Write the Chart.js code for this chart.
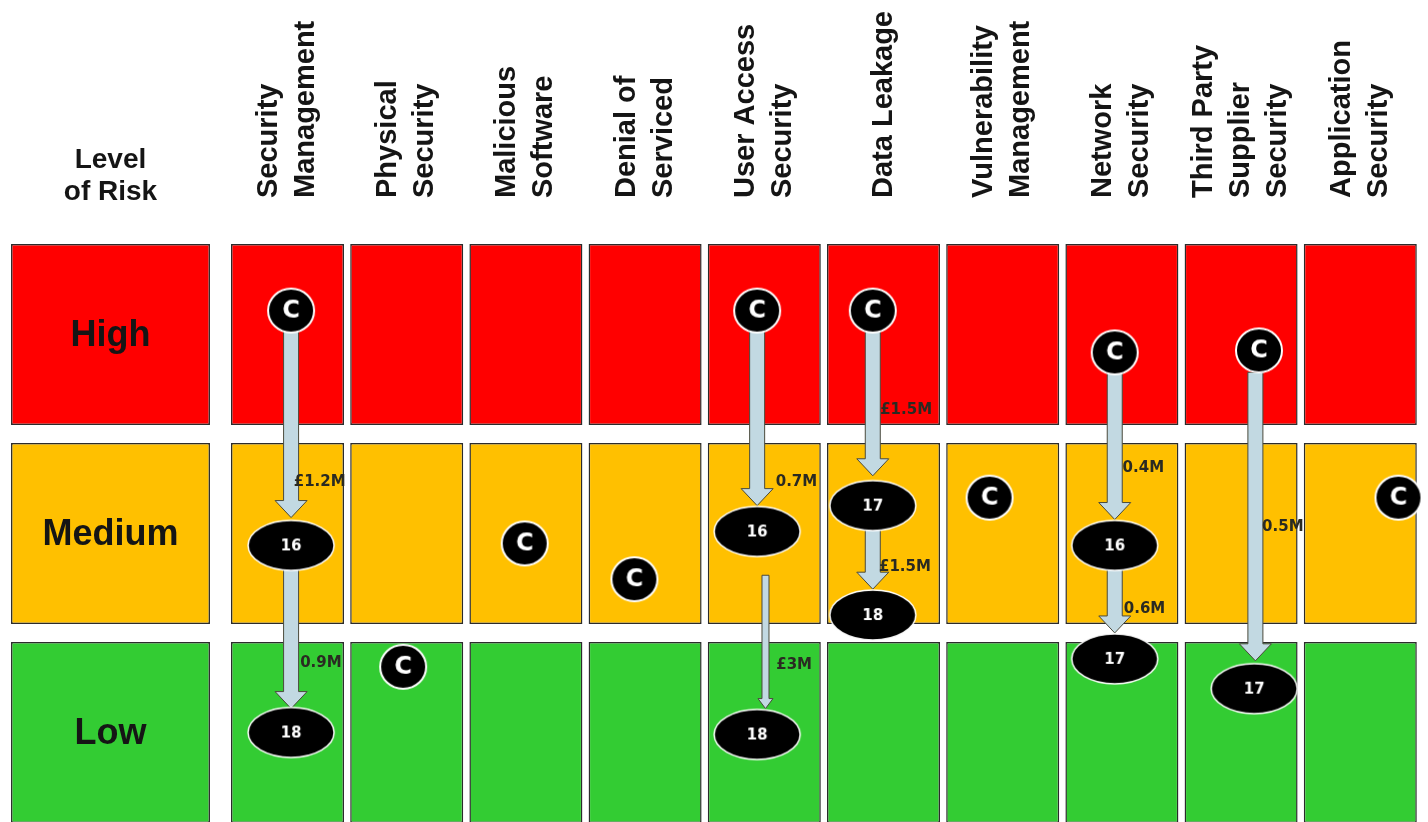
<!DOCTYPE html>
<html>
<head>
<meta charset="utf-8">
<title>Level of Risk</title>
<script src="https://cdn.jsdelivr.net/npm/chart.js@4.4.1/dist/chart.umd.min.js"></script>
<style>
  html, body { margin: 0; padding: 0; background: #fff; }
  #wrap { width: 1428px; height: 822px; }
</style>
</head>
<body>
<div id="wrap"><canvas id="riskChart" width="1428" height="822"></canvas></div>
<script>
// columns: risk areas (each entry = lines of the rotated header)
var riskAreas = [
    ['Security', 'Management'], ['Physical', 'Security'], ['Malicious', 'Software'],
    ['Denial of', 'Serviced'], ['User Access', 'Security'], ['Data Leakage'],
    ['Vulnerability', 'Management'], ['Network', 'Security'],
    ['Third Party', 'Supplier', 'Security'], ['Application', 'Security']
];
var riskLevels = ['Low', 'Medium', 'High'];
var levelTitle = ['Level', 'of Risk'];

// current position "C" of each area (x = column, y = level band)
var currentX = [0.03, 0.97, 1.99, 2.91, 3.94, 4.91, 5.89, 6.94, 8.15, 9.32];
var currentY = [2.62, 0.83, 1.45, 1.27, 2.62, 2.62, 1.68, 2.41, 2.42, 1.68];

// target positions (year shown in the ellipse)
var targetLabel = ['16', '18', '16', '18', '17', '18', '16', '17', '17'];
var targetX = [0.03, 0.03, 3.94, 3.94, 4.91, 4.91, 6.94, 6.94, 8.11];
var targetY = [1.44, 0.50, 1.51, 0.49, 1.64, 1.09, 1.44, 0.87, 0.72];

// moves between positions and their cost
var moveX = [0.03, 0.03, 3.94, 4.01, 4.91, 4.91, 6.94, 6.94, 8.12];
var moveFrom = [2.52, 1.33, 2.52, 1.29, 2.52, 1.53, 2.31, 1.33, 2.31];
var moveTo = [1.58, 0.62, 1.64, 0.62, 1.79, 1.22, 1.57, 1.00, 0.86];
var moveCost = ['£1.2M', '0.9M', '0.7M', '£3M', '£1.5M', '£1.5M', '0.4M', '0.6M', '0.5M'];
var costX = [0.27, 0.28, 4.27, 4.25, 5.19, 5.18, 7.18, 7.19, 8.35];
var costY = [1.76, 0.85, 1.76, 0.84, 2.12, 1.33, 1.83, 1.12, 1.53];

var levelColours = ['#33cc33', '#ffc000', '#ff0000'];

// layout
var LABEL_COL = -1.485;
var BAND_GAP = 0.045;
var HEADER_BASE = 3.186;
var TITLE_Y = 3.297;
var FONT = '"Liberation Sans", Arial, sans-serif';
var FONT_MARK = '"DejaVu Sans", Verdana, sans-serif';

function makeMarker(isCurrent, text) {
    var rx = isCurrent ? 23 : 43, ry = isCurrent ? 22 : 25;
    var c = document.createElement('canvas');
    c.width = rx * 2 + 4;
    c.height = ry * 2 + 4;
    var g = c.getContext('2d');
    g.beginPath();
    g.ellipse(c.width / 2, c.height / 2, rx, ry, 0, 0, Math.PI * 2);
    g.fillStyle = '#000';
    g.fill();
    g.lineWidth = isCurrent ? 2 : 1.5;
    g.strokeStyle = '#fff';
    g.stroke();
    g.fillStyle = '#fff';
    g.textAlign = 'center';
    g.textBaseline = 'middle';
    g.font = isCurrent ? 'bold 24px ' + FONT_MARK : 'bold 15px ' + FONT_MARK;
    g.fillText(text, c.width / 2, c.height / 2 + 1);
    return c;
}

var currentMarks = currentX.map(function () { return makeMarker(true, 'C'); });
var targetMarks = targetLabel.map(function (t) { return makeMarker(false, t); });

var gridCells = [], gridColours = [], labelCells = [], labelColours = [];
riskLevels.forEach(function (lvl, l) {
    riskAreas.forEach(function (area, i) {
        gridCells.push({x: i, y: [l + BAND_GAP, l + 1 - BAND_GAP]});
        gridColours.push(levelColours[l]);
    });
    labelCells.push({x: LABEL_COL, y: [l + BAND_GAP, l + 1 - BAND_GAP]});
    labelColours.push(levelColours[l]);
});

function drawArrow(ctx, x, y0, y1, shaft, head, headLen) {
    var hw = shaft / 2, hh = head / 2;
    ctx.beginPath();
    ctx.moveTo(x - hw, y0);
    ctx.lineTo(x + hw, y0);
    ctx.lineTo(x + hw, y1 - headLen);
    ctx.lineTo(x + hh, y1 - headLen);
    ctx.lineTo(x, y1);
    ctx.lineTo(x - hh, y1 - headLen);
    ctx.lineTo(x - hw, y1 - headLen);
    ctx.closePath();
    ctx.fill();
    ctx.stroke();
}

var arrowsPlugin = {
    id: 'moves',
    beforeDatasetDraw: function (chart, args) {
        if (chart.data.datasets[args.index].label !== 'Target') return;
        var ctx = chart.ctx, xs = chart.scales.x, ys = chart.scales.y;
        ctx.save();
        ctx.fillStyle = '#c2d9e2';
        ctx.strokeStyle = '#4a4a3c';
        ctx.lineWidth = 1;
        moveX.forEach(function (mx, i) {
            var thin = moveCost[i] === '£3M';
            drawArrow(ctx, xs.getPixelForValue(mx), ys.getPixelForValue(moveFrom[i]),
                ys.getPixelForValue(moveTo[i]), thin ? 7 : 15, thin ? 15 : 32, thin ? 10 : 17);
        });
        ctx.restore();
    }
};

var textPlugin = {
    id: 'texts',
    afterDatasetsDraw: function (chart) {
        var ctx = chart.ctx, xs = chart.scales.x, ys = chart.scales.y;
        ctx.save();
        ctx.fillStyle = '#151515';

        // rotated column headers
        ctx.font = 'bold 29px ' + FONT;
        ctx.textAlign = 'left';
        ctx.textBaseline = 'middle';
        riskAreas.forEach(function (lines, i) {
            ctx.save();
            ctx.translate(xs.getPixelForValue(i), ys.getPixelForValue(HEADER_BASE));
            ctx.rotate(-Math.PI / 2);
            lines.forEach(function (t, j) {
                ctx.fillText(t, 0, (j - (lines.length - 1) / 2) * 37);
            });
            ctx.restore();
        });

        // title of the level column
        ctx.textAlign = 'center';
        ctx.font = 'bold 28px ' + FONT;
        levelTitle.forEach(function (t, j) {
            ctx.fillText(t, xs.getPixelForValue(LABEL_COL),
                ys.getPixelForValue(TITLE_Y) + (j - 0.5) * 32);
        });

        // level names
        ctx.font = 'bold 36px ' + FONT;
        riskLevels.forEach(function (t, l) {
            ctx.fillText(t, xs.getPixelForValue(LABEL_COL), ys.getPixelForValue(l + 0.5) + 2);
        });

        // costs of the moves
        ctx.font = 'bold 15px ' + FONT_MARK;
        ctx.fillStyle = '#2a2a22';
        moveCost.forEach(function (t, i) {
            ctx.fillText(t, xs.getPixelForValue(costX[i]), ys.getPixelForValue(costY[i]));
        });
        ctx.restore();
    }
};

var riskChart = new Chart(document.getElementById('riskChart'), {
    type: 'bar',
    data: {
        datasets: [{
            label: 'Current',
            type: 'scatter',
            data: currentX.map(function (x, i) { return {x: x, y: currentY[i]}; }),
            pointStyle: currentMarks,
            pointRadius: 20,
            order: 0
        }, {
            label: 'Target',
            type: 'scatter',
            data: targetX.map(function (x, i) { return {x: x, y: targetY[i]}; }),
            pointStyle: targetMarks,
            pointRadius: 20,
            order: 1
        }, {
            label: 'Areas',
            data: gridCells,
            backgroundColor: gridColours,
            borderColor: '#2b2b2b',
            borderWidth: 1.5,
            borderSkipped: false,
            grouped: false,
            barPercentage: 0.948,
            categoryPercentage: 1,
            order: 2
        }, {
            label: 'Levels',
            data: labelCells,
            backgroundColor: labelColours,
            borderColor: '#2b2b2b',
            borderWidth: 1.5,
            borderSkipped: false,
            grouped: false,
            barPercentage: 1.669,
            categoryPercentage: 1,
            order: 2
        }]
    },
    options: {
        responsive: false,
        animation: false,
        events: [],
        devicePixelRatio: 1,
        layout: { padding: 0, autoPadding: false },
        plugins: { legend: { display: false }, tooltip: { enabled: false } },
        scales: {
            x: {
                type: 'linear', display: false, offset: false,
                min: -2.412, max: 9.568,
                ticks: { stepSize: 1, includeBounds: false, maxTicksLimit: 20 }
            },
            y: {
                type: 'linear', display: false, stacked: false,
                min: 0.05, max: 4.181
            }
        }
    },
    plugins: [arrowsPlugin, textPlugin]
});
</script>
</body>
</html>
